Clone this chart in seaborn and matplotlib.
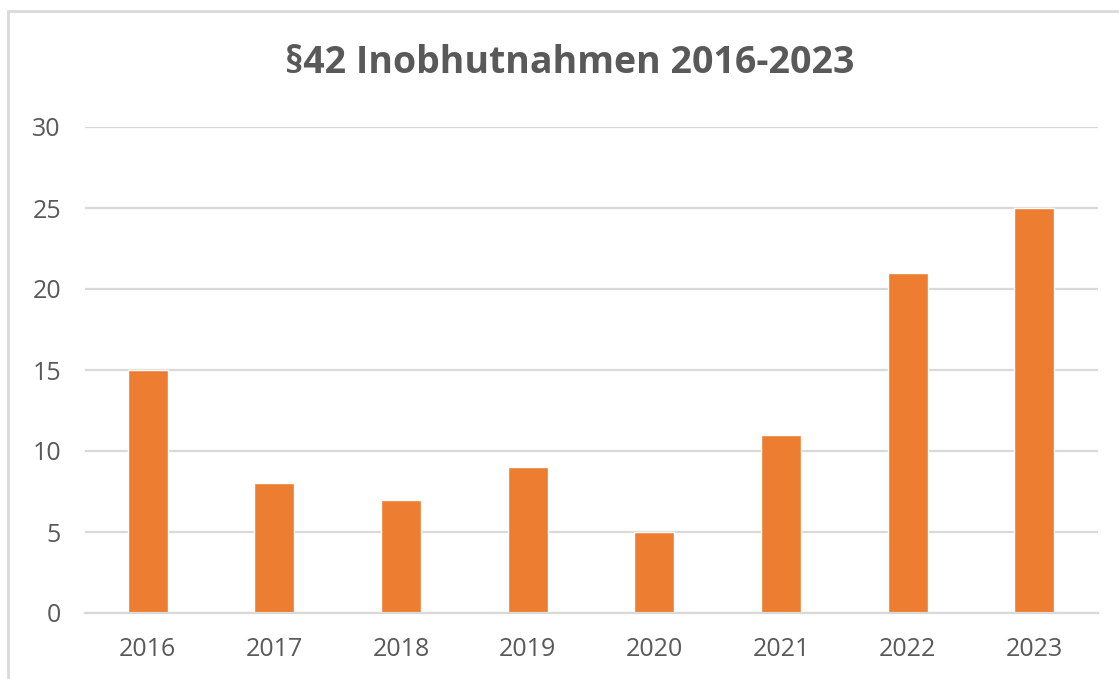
import matplotlib
matplotlib.use("Agg")
import matplotlib.pyplot as plt
import seaborn as sns
import pandas as pd
from matplotlib.patches import Rectangle

years = ["2016", "2017", "2018", "2019", "2020", "2021", "2022", "2023"]
values = [15, 8, 7, 9, 5, 11, 21, 25]
yticks = [0, 5, 10, 15, 20, 25, 30]
title = "§42 Inobhutnahmen 2016-2023"

sns.set_theme(style="white")
plt.rcParams['font.family'] = ['Open Sans', 'DejaVu Sans']

W, H = 1119, 679
fig = plt.figure(figsize=(W / 100, H / 100), dpi=100)
ax = fig.add_axes([84.5 / W, 1 - 613 / H, (1097.5 - 84.5) / W, (613 - 127) / H])

df = pd.DataFrame({"year": years, "value": values})
sns.barplot(data=df, x="year", y="value", color="#ED7D31", saturation=1,
            width=0.316, ax=ax)

ax.set_ylim(0, 30)
ax.set_xlim(-0.5, len(years) - 0.5)
ax.set_yticks(yticks)
ax.set_yticklabels([str(t) for t in yticks])
ax.yaxis.grid(True, color="#D9D9D9", linewidth=1.6)
ax.set_axisbelow(True)
for s in ["top", "right", "left"]:
    ax.spines[s].set_visible(False)
ax.spines["bottom"].set_color("#D9D9D9")
ax.spines["bottom"].set_linewidth(1.6)
ax.tick_params(axis="both", length=0, labelsize=18, colors="#595959")
ax.tick_params(axis="y", pad=17)
ax.tick_params(axis="x", pad=17)
ax.set_xlabel("")
ax.set_ylabel("")

fig.text(570 / W, 1 - 63 / H, title, ha="center", va="center",
         fontsize=27, fontweight="bold", color="#595959")

fig.patches.append(Rectangle((8 / W, -0.1), 1.2, 1 - 11 / H + 0.1,
                             transform=fig.transFigure, fill=False,
                             edgecolor="#D9D9D9", linewidth=2))

fig.savefig("out.png", dpi=100, facecolor="white")
